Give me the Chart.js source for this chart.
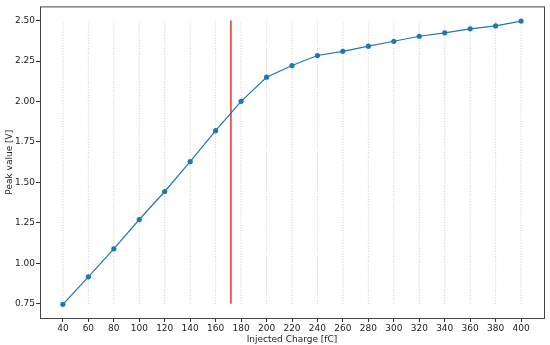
<!DOCTYPE html>
<html>
<head>
<meta charset="utf-8">
<script src="https://cdn.jsdelivr.net/npm/chart.js@4"></script>
<style>
  html, body { margin: 0; padding: 0; background: #fff; }
  #wrap { width: 550px; height: 345px; }
</style>
</head>
<body>
<div id="wrap"><canvas id="peakChart" width="550" height="345"></canvas></div>
<script>
const charge = [40, 60, 80, 100, 120, 140, 160, 180, 200, 220, 240, 260, 280, 300, 320, 340, 360, 380, 400];
const peak = [0.747, 0.917, 1.090, 1.271, 1.444, 1.628, 1.820, 2.001, 2.150, 2.222, 2.284, 2.310, 2.342, 2.372, 2.403, 2.424, 2.449, 2.467, 2.497];
const thresholdCharge = 172;
const xTicks = [40, 60, 80, 100, 120, 140, 160, 180, 200, 220, 240, 260, 280, 300, 320, 340, 360, 380, 400];
const yTicks = [0.75, 1.00, 1.25, 1.50, 1.75, 2.00, 2.25, 2.50];
const guideLow = 0.75;
const guideHigh = 2.50;

const font = { family: 'DejaVu Sans', size: 9 };

// light dotted guides at every x tick
const guides = xTicks.map(v => ({
    type: 'line',
    data: [{ x: v, y: guideLow }, { x: v, y: guideHigh }],
    borderColor: 'rgba(160,160,160,0.55)',
    borderWidth: 1,
    borderDash: [1, 1.6],
    pointRadius: 0,
    order: 3
}));

const frame = {
    id: 'frame',
    afterDraw(chart) {
        const { ctx, chartArea: a } = chart;
        ctx.save();
        ctx.strokeStyle = '#444';
        ctx.lineWidth = 1;
        ctx.strokeRect(a.left + 0.5, a.top + 0.5, a.right - a.left, a.bottom - a.top);
        ctx.restore();
    }
};

const ctx = document.getElementById('peakChart').getContext('2d');
new Chart(ctx, {
    type: 'scatter',
    data: {
        datasets: [
            ...guides,
            {
                type: 'line',
                data: [{ x: thresholdCharge, y: guideLow }, { x: thresholdCharge, y: guideHigh }],
                borderColor: '#e8302a',
                borderWidth: 1.5,
                pointRadius: 0,
                order: 2
            },
            {
                type: 'line',
                data: charge.map((c, i) => ({ x: c, y: peak[i] })),
                borderColor: '#1f77b4',
                backgroundColor: '#1f77b4',
                borderWidth: 1.2,
                pointRadius: 2.6,
                pointBorderWidth: 0,
                order: 1
            }
        ]
    },
    options: {
        responsive: false,
        animation: false,
        layout: { padding: { left: 4, right: 6, top: 6, bottom: 0 } },
        plugins: { legend: { display: false }, tooltip: { enabled: false } },
        scales: {
            x: {
                type: 'linear',
                min: 22,
                max: 418,
                afterBuildTicks: s => { s.ticks = xTicks.map(v => ({ value: v })); },
                afterFit: s => { s.height = 27; },
                ticks: { font, color: '#222', padding: 1, maxRotation: 0, autoSkip: false },
                grid: { drawOnChartArea: false, drawTicks: true, tickLength: 4, color: '#333' },
                border: { display: false },
                title: { display: true, text: 'Injected Charge [fC]', font, color: '#222', padding: { top: 0, bottom: 0 } }
            },
            y: {
                type: 'linear',
                min: 0.6625,
                max: 2.5875,
                afterBuildTicks: s => { s.ticks = yTicks.map(v => ({ value: v })); },
                afterFit: s => { s.width = 36; },
                ticks: { font, color: '#222', padding: 1, callback: v => v.toFixed(2) },
                grid: { drawOnChartArea: false, drawTicks: true, tickLength: 4, color: '#333' },
                border: { display: false },
                title: { display: true, text: 'Peak value [V]', font, color: '#222', padding: { top: 0, bottom: 2 } }
            }
        }
    },
    plugins: [frame]
});
</script>
</body>
</html>
